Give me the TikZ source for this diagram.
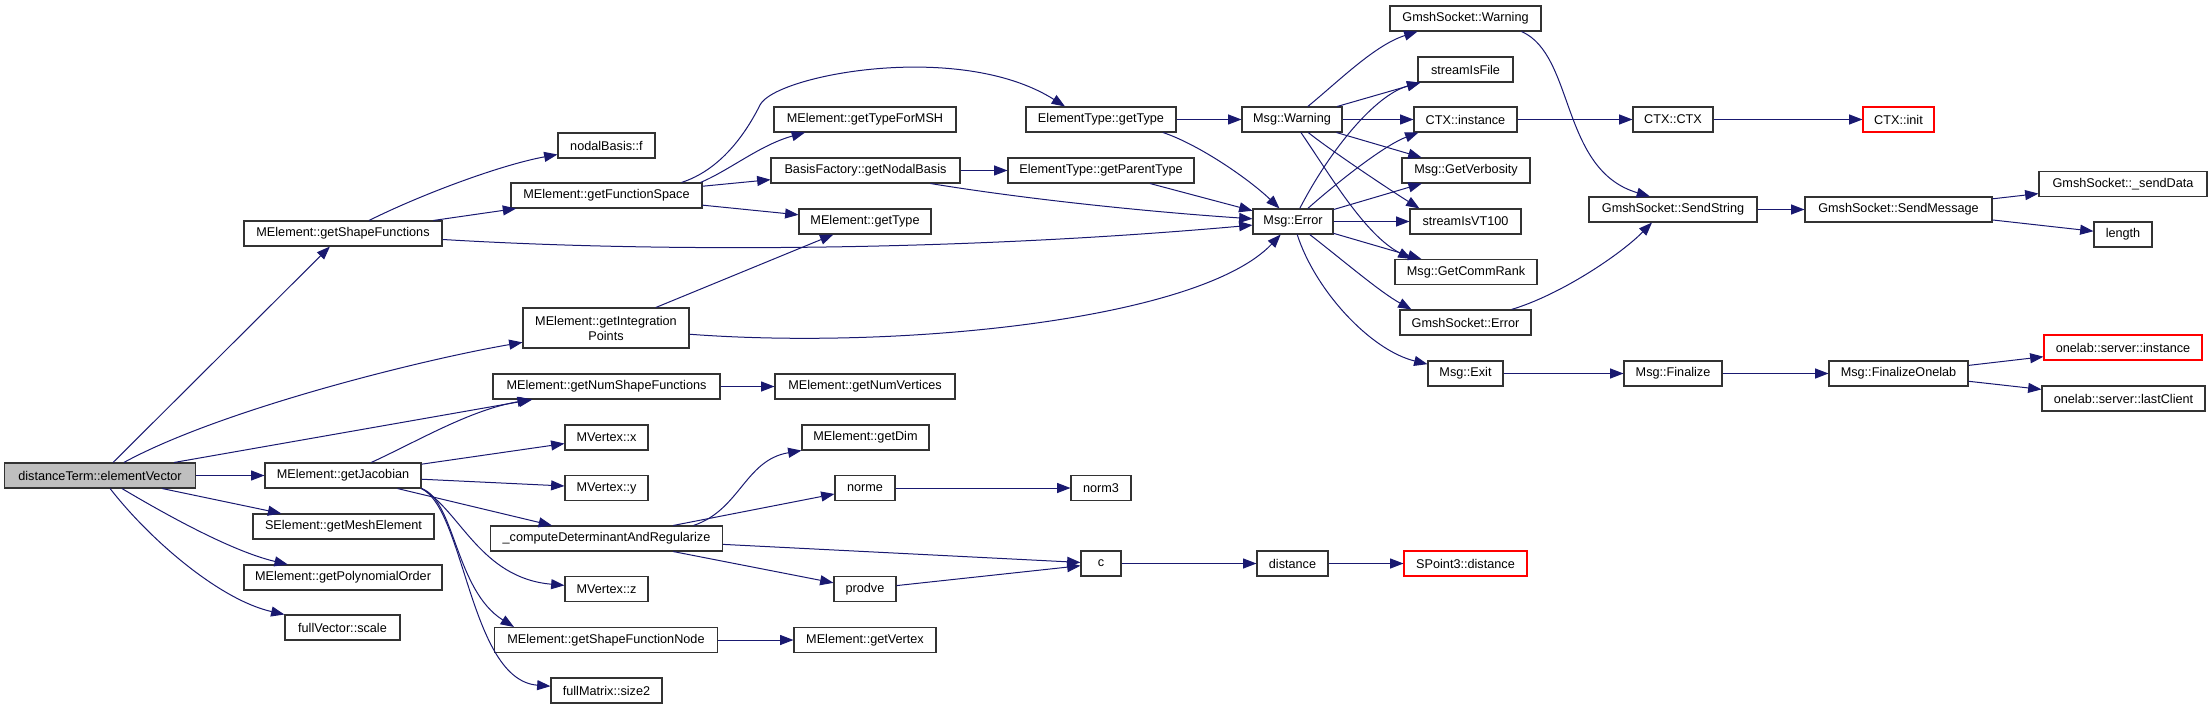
\documentclass[tikz,border=0pt]{standalone}
\usepackage{fontspec}
\setmainfont{Liberation Sans}
\usepackage{tikz}
\usetikzlibrary{arrows.meta,positioning,calc}
\usepackage{xcolor}
\definecolor{CallBlue}{HTML}{191970}
\definecolor{RootGray}{HTML}{BFBFBF}
\definecolor{BoxLine}{HTML}{333333}
\definecolor{NoDocRed}{HTML}{FF0000}

\begin{document}
\begin{tikzpicture}[x=0.75pt,y=-0.75pt,
  fn/.style={draw=BoxLine,line width=0.8pt,fill=white,minimum height=18.75pt,inner xsep=1pt,inner ysep=1pt,font=\fontsize{9.5}{11.25}\selectfont,text=black},
  boxw/.style={minimum width=#1*0.75pt},
  root/.style={fn,fill=RootGray},
  nodoc/.style={fn,draw=NoDocRed},
  call/.style={draw=CallBlue,line width=0.75pt,-{Triangle[length=10pt,width=7.5pt]}}]
\useasboundingbox (0,0) rectangle (2212,709);
% callers on the left
\node[root,boxw=191] (dT) at (100,475.5) {distanceTerm::elementVector};
\node[fn,boxw=198] (gSF) at (343,233.5) {MElement::getShapeFunctions};
\node[fn,boxw=156] (gJ) at (343,475.5) {MElement::getJacobian};
\node[fn,boxw=181] (sGME) at (343.5,526.5) {SElement::getMeshElement};
\node[fn,boxw=198] (gPO) at (343,577.5) {MElement::getPolynomialOrder};
\node[fn,boxw=115] (fVS) at (342.5,627.5) {fullVector::scale};
% third column
\node[fn,boxw=97] (nBf) at (606.5,145.5) {nodalBasis::f};
\node[fn,boxw=191] (gFS) at (606.5,195.5) {MElement::getFunctionSpace};
\node[fn,boxw=166,minimum height=30pt,align=center] (gIP) at (606,328) {MElement::getIntegration\\Points};
\node[fn,boxw=227] (gNSF) at (606.5,386.5) {MElement::getNumShapeFunctions};
\node[fn,boxw=83] (Mx) at (606.5,437.5) {MVertex::x};
\node[fn,boxw=83] (My) at (606.5,488) {MVertex::y};
\node[fn,boxw=232] (cDAR) at (606.5,538.5) {\_computeDeterminantAndRegularize};
\node[fn,boxw=83] (Mz) at (606.5,589) {MVertex::z};
\node[fn,boxw=223] (gSFN) at (606,640) {MElement::getShapeFunctionNode};
\node[fn,boxw=111] (fMs) at (606.5,690.5) {fullMatrix::size2};
% fourth column
\node[fn,boxw=182] (gTFM) at (865,119.5) {MElement::getTypeForMSH};
\node[fn,boxw=189] (BF) at (865.5,170.5) {BasisFactory::getNodalBasis};
\node[fn,boxw=132] (MgT) at (865,221.5) {MElement::getType};
\node[fn,boxw=180] (gNV) at (865,386.5) {MElement::getNumVertices};
\node[fn,boxw=127] (MgD) at (865.5,437.5) {MElement::getDim};
\node[fn,boxw=60] (norme) at (865,488) {norme};
\node[fn,boxw=62] (prodve) at (865,589) {prodve};
\node[fn,boxw=142] (gV) at (865,640) {MElement::getVertex};
% fifth and sixth columns
\node[fn,boxw=150] (ETgT) at (1101,119.5) {ElementType::getType};
\node[fn,boxw=186] (ETgPT) at (1101,170.5) {ElementType::getParentType};
\node[fn,boxw=60] (norm3) at (1101,488) {norm3};
\node[fn,boxw=40] (c) at (1101,563.5) {c};
\node[fn,boxw=100] (MW) at (1292,119.5) {Msg::Warning};
\node[fn,boxw=80] (ME) at (1293,221.5) {Msg::Error};
\node[fn,boxw=71] (dist) at (1292.5,563.5) {distance};
% Msg helpers
\node[fn,boxw=151] (GW) at (1465.5,18.5) {GmshSocket::Warning};
\node[fn,boxw=95] (sIF) at (1465.5,69.5) {streamIsFile};
\node[fn,boxw=103] (CTXi) at (1465.5,119.5) {CTX::instance};
\node[fn,boxw=128] (GV) at (1466,170.5) {Msg::GetVerbosity};
\node[fn,boxw=111] (sVT) at (1465.5,221.5) {streamIsVT100};
\node[fn,boxw=142] (GCR) at (1466,272) {Msg::GetCommRank};
\node[fn,boxw=131] (GE) at (1465.5,322.5) {GmshSocket::Error};
\node[fn,boxw=75] (MEx) at (1465.5,373.5) {Msg::Exit};
\node[nodoc,boxw=123] (SPd) at (1465.5,563.5) {SPoint3::distance};
% right part
\node[fn,boxw=80] (CTXc) at (1673,119.5) {CTX::CTX};
\node[fn,boxw=168] (SS) at (1673,209.5) {GmshSocket::SendString};
\node[fn,boxw=98] (MF) at (1673,373.5) {Msg::Finalize};
\node[nodoc,boxw=71] (CTXinit) at (1898.5,119.5) {CTX::init};
\node[fn,boxw=187] (SM) at (1898.5,209.5) {GmshSocket::SendMessage};
\node[fn,boxw=139] (FO) at (1898.5,373.5) {Msg::FinalizeOnelab};
\node[fn,boxw=168] (sD) at (2123,184) {GmshSocket::\_sendData};
\node[fn,boxw=58] (len) at (2123,234.5) {length};
\node[nodoc,boxw=158] (osi) at (2123,347.5) {onelab::server::instance};
\node[fn,boxw=163] (olc) at (2123.5,398.5) {onelab::server::lastClient};
% calls from distanceTerm::elementVector
\draw[call] (dT) -- (gSF);
\draw[call] (dT) .. controls (220,410) and (420,360) .. (gIP);
\draw[call] (dT) -- (gNSF);
\draw[call] (dT) -- (gJ);
\draw[call] (dT) -- (sGME);
\draw[call] (dT) .. controls (175,520) and (235,552) .. (gPO);
\draw[call] (dT) .. controls (150,540) and (220,600) .. (fVS);
% MElement::getShapeFunctions
\draw[call] (gSF) .. controls (420,195) and (500,165) .. (nBf);
\draw[call] (gSF) -- (gFS);
\draw[call] (gSF) .. controls (650,252) and (950,252) .. (ME);
% MElement::getFunctionSpace
\draw[call] ($(gFS.north)+(75,0)$) .. controls (720,170) and (745,135) .. (760,105) .. controls (775,75) and (960,40) .. ($(ETgT.north)+(-36,0)$);
\draw[call] ($(gFS.north)+(94,0)$) .. controls (730,170) and (760,145) .. ($(gTFM.south)+(-60,0)$);
\draw[call] (gFS) -- (BF);
\draw[call] (gFS) -- (MgT);
\draw[call] (BF) -- (ETgPT);
\draw[call] ($(BF.south)+(65,0)$) .. controls (1050,203) and (1180,214) .. (ME);
\draw[call] (ETgT) -- (MW);
\draw[call] ($(ETgT.south)+(62,0)$) .. controls (1200,145) and (1250,180) .. (ME);
\draw[call] (ETgPT) -- (ME);
% MElement::getIntegrationPoints
\draw[call] (gIP) -- (MgT);
\draw[call] (gIP) .. controls (900,350) and (1200,320) .. (ME);
\draw[call] (gNSF) -- (gNV);
% MElement::getJacobian
\draw[call] (gJ) .. controls (420,440) and (470,410) .. (gNSF);
\draw[call] (gJ) -- (Mx);
\draw[call] (gJ) -- (My);
\draw[call] (gJ) -- (cDAR);
\draw[call] (gJ.south east) .. controls (460,510) and (480,578) .. (Mz);
\draw[call] (gJ.south east) .. controls (455,500) and (455,590) .. ($(gSFN.north west)+(20,0)$);
\draw[call] (gJ.south east) .. controls (465,510) and (470,680) .. (fMs);
\draw[call] (gSFN) -- (gV);
% _computeDeterminantAndRegularize
\draw[call] ($(cDAR.north)+(87,0)$) .. controls (740,510) and (745,460) .. (MgD.south west);
\draw[call] (cDAR) -- (norme);
\draw[call] (cDAR) -- (c);
\draw[call] (cDAR) -- (prodve);
\draw[call] (prodve) -- (c);
\draw[call] (norme) -- (norm3);
\draw[call] (c) -- (dist);
\draw[call] (dist) -- (SPd);
% Msg::Warning
\draw[call] (MW) .. controls (1340,80) and (1375,45) .. ($(GW.south west)+(28,0)$);
\draw[call] (MW) -- (sIF);
\draw[call] (MW) -- (CTXi);
\draw[call] (MW) -- (GV);
\draw[call] (MW) .. controls (1330,150) and (1390,190) .. ($(sVT.north west)+(10,0)$);
\draw[call] (MW) .. controls (1330,175) and (1365,235) .. ($(GCR.north west)+(17,0)$);
% Msg::Error
\draw[call] (ME) .. controls (1330,150) and (1375,95) .. ($(sIF.south west)+(3,0)$);
\draw[call] (ME) .. controls (1340,180) and (1385,145) .. ($(CTXi.south west)+(5,0)$);
\draw[call] (ME) -- (GV);
\draw[call] (ME) -- (sVT);
\draw[call] (ME) -- (GCR);
\draw[call] (ME) .. controls (1345,262) and (1380,292) .. ($(GE.north west)+(12,0)$);
\draw[call] (ME) .. controls (1315,290) and (1370,350) .. (MEx);
% right part
\draw[call] (CTXi) -- (CTXc);
\draw[call] (CTXc) -- (CTXinit);
\draw[call] ($(GW.south)+(56,0)$) .. controls (1575,55) and (1560,170) .. ($(SS.north)+(-23,0)$);
\draw[call] ($(GE.north)+(46,0)$) .. controls (1560,295) and (1620,255) .. ($(SS.south)+(-21,0)$);
\draw[call] (SS) -- (SM);
\draw[call] (SM) -- (sD);
\draw[call] (SM) -- (len);
\draw[call] (MEx) -- (MF);
\draw[call] (MF) -- (FO);
\draw[call] (FO) -- (osi);
\draw[call] (FO) -- (olc);
\end{tikzpicture}
\end{document}
